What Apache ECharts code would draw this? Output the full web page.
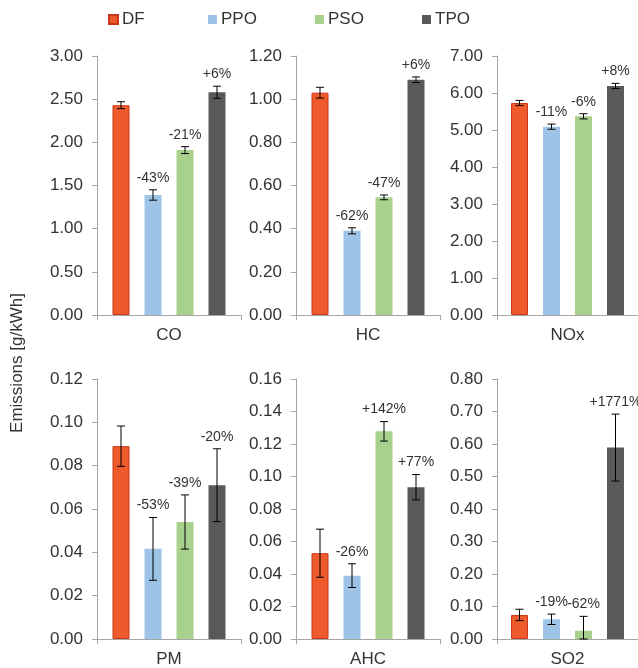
<!DOCTYPE html>
<html>
<head>
<meta charset="utf-8">
<script src="https://cdn.jsdelivr.net/npm/echarts@6/dist/echarts.min.js"></script>
<style>
  html, body { margin: 0; padding: 0; background: #fff; }
  #chart { width: 638px; height: 668px; }
</style>
</head>
<body>
<div id="chart"></div>
<script>
// Fuels (series) and pollutants (one panel each)
const fuels = ['DF', 'PPO', 'PSO', 'TPO'];
const pollutants = ['CO', 'HC', 'NOx', 'PM', 'AHC', 'SO2'];

// Mean emissions [g/kWh] per fuel, in the order of `fuels`
const coMean  = [2.43, 1.39, 1.91, 2.58];
const hcMean  = [1.03, 0.39, 0.545, 1.09];
const noxMean = [5.73, 5.09, 5.37, 6.19];
const pmMean  = [0.089, 0.0416, 0.054, 0.071];
const ahcMean = [0.0528, 0.039, 0.1278, 0.0934];
const so2Mean = [0.074, 0.0606, 0.0257, 0.589];

// Error bar half-widths
const coErr  = [0.04, 0.06, 0.04, 0.07];
const hcErr  = [0.025, 0.014, 0.011, 0.013];
const noxErr = [0.07, 0.07, 0.07, 0.07];
const pmErr  = [0.0093, 0.0145, 0.0125, 0.0168];
const ahcErr = [0.0148, 0.0073, 0.006, 0.0078];
const so2Err = [0.0175, 0.016, 0.044, 0.103];

// Change relative to DF
const coPct  = ['', '-43%', '-21%', '+6%'];
const hcPct  = ['', '-62%', '-47%', '+6%'];
const noxPct = ['', '-11%', '-6%', '+8%'];
const pmPct  = ['', '-53%', '-39%', '-20%'];
const ahcPct = ['', '-26%', '+142%', '+77%'];
const so2Pct = ['', '-19%', '-62%', '+1771%'];

// Value axis extents and tick steps
const axisMax  = [3, 1.2, 7, 0.12, 0.16, 0.8];
const axisStep = [0.5, 0.2, 1, 0.02, 0.02, 0.1];

const means = [coMean, hcMean, noxMean, pmMean, ahcMean, so2Mean];
const errs  = [coErr, hcErr, noxErr, pmErr, ahcErr, so2Err];
const pcts  = [coPct, hcPct, noxPct, pmPct, ahcPct, so2Pct];

// Styling and layout
const FONT = "'Liberation Sans', Arial, sans-serif";
const TEXT = '#333333';
const AXIS = '#A6A6A6';
const colors = ['#EE5A2B', '#9DC3E6', '#A9D18E', '#595959'];
const borders = ['#C8381C', '#9DC3E6', '#A9D18E', '#595959'];
const BAR_W = 17;
const BAR_GAP = 15;
const colLeft = [97, 296, 497];
const colWidth = [144, 144, 142];
const rowTop = [56, 379];
const rowHeight = [259, 260];

const grids = [], xAxes = [], yAxes = [], series = [];

pollutants.forEach((p, i) => {
  const col = i % 3, row = Math.floor(i / 3);
  grids.push({ left: colLeft[col], top: rowTop[row], width: colWidth[col], height: rowHeight[row] });
  xAxes.push({
    type: 'category', gridIndex: i, data: [p],
    axisLine: { lineStyle: { color: AXIS, width: 1 } },
    axisTick: { show: true, length: 5, lineStyle: { color: AXIS } },
    axisLabel: { color: TEXT, fontSize: 17, fontFamily: FONT, margin: 12 }
  });
  yAxes.push({
    type: 'value', gridIndex: i, min: 0, max: axisMax[i], interval: axisStep[i],
    splitLine: { show: false },
    axisLine: { show: true, lineStyle: { color: AXIS, width: 1 } },
    axisTick: { show: true, length: 5, lineStyle: { color: AXIS } },
    axisLabel: { color: TEXT, fontSize: 17, fontFamily: FONT, margin: 14,
      formatter: v => v.toFixed(2) }
  });

  fuels.forEach((f, k) => {
    series.push({
      type: 'bar', name: f, xAxisIndex: i, yAxisIndex: i,
      barWidth: BAR_W, barGap: (BAR_GAP / BAR_W * 100).toFixed(1) + '%',
      itemStyle: { color: colors[k], borderColor: borders[k], borderWidth: k === 0 ? 1 : 0 },
      data: [means[i][k]],
      z: 2
    });
  });

  // Error bars and percentage labels drawn on top of the bars
  const panelPct = pcts[i];
  series.push({
    type: 'custom', xAxisIndex: i, yAxisIndex: i, z: 5, silent: true,
    encode: { x: 0, y: 1 },
    data: fuels.map((f, k) => [0, means[i][k], errs[i][k], k]),
    renderItem: (params, api) => {
      const mean = api.value(1), err = api.value(2), k = api.value(3);
      const lo = Math.max(0, mean - err), hi = mean + err;
      const dx = (k - 1.5) * (BAR_W + BAR_GAP);
      const pTop = api.coord([0, hi]);
      const pBot = api.coord([0, lo]);
      const x = pTop[0] + dx;
      const cap = 4;
      const ls = { stroke: '#000', lineWidth: 1 };
      const children = [
        { type: 'line', shape: { x1: x, y1: pTop[1], x2: x, y2: pBot[1] }, style: ls },
        { type: 'line', shape: { x1: x - cap, y1: pTop[1], x2: x + cap, y2: pTop[1] }, style: ls },
        { type: 'line', shape: { x1: x - cap, y1: pBot[1], x2: x + cap, y2: pBot[1] }, style: ls }
      ];
      const txt = panelPct[k];
      if (txt) {
        children.push({
          type: 'text',
          style: { text: txt, x: x, y: pTop[1] - 5, align: 'center', verticalAlign: 'bottom',
            textAlign: 'center', textVerticalAlign: 'bottom',
            fontSize: 14, fontFamily: FONT, fill: TEXT }
        });
      }
      return { type: 'group', children: children };
    }
  });
});

const legendLeft = [108, 208, 315, 422];
const legends = fuels.map((f, k) => ({
  data: [f], left: legendLeft[k], top: 11, padding: 0,
  icon: 'rect', itemWidth: 9, itemHeight: 9, itemGap: 5,
  textStyle: { fontSize: 17, fontFamily: FONT, color: TEXT, padding: [0, 0, 0, -1] },
  selectedMode: false
}));

const chart = echarts.init(document.getElementById('chart'), null, { renderer: 'canvas' });
chart.setOption({
  animation: false,
  backgroundColor: '#ffffff',
  legend: legends,
  grid: grids,
  xAxis: xAxes,
  yAxis: yAxes,
  series: series,
  graphic: [{
    type: 'text',
    rotation: Math.PI / 2,
    x: 17, y: 363,
    style: { text: 'Emissions [g/kWh]', fontSize: 17, fontFamily: FONT, fill: TEXT,
      align: 'center', verticalAlign: 'middle', textAlign: 'center', textVerticalAlign: 'middle' }
  }]
});
</script>
</body>
</html>
